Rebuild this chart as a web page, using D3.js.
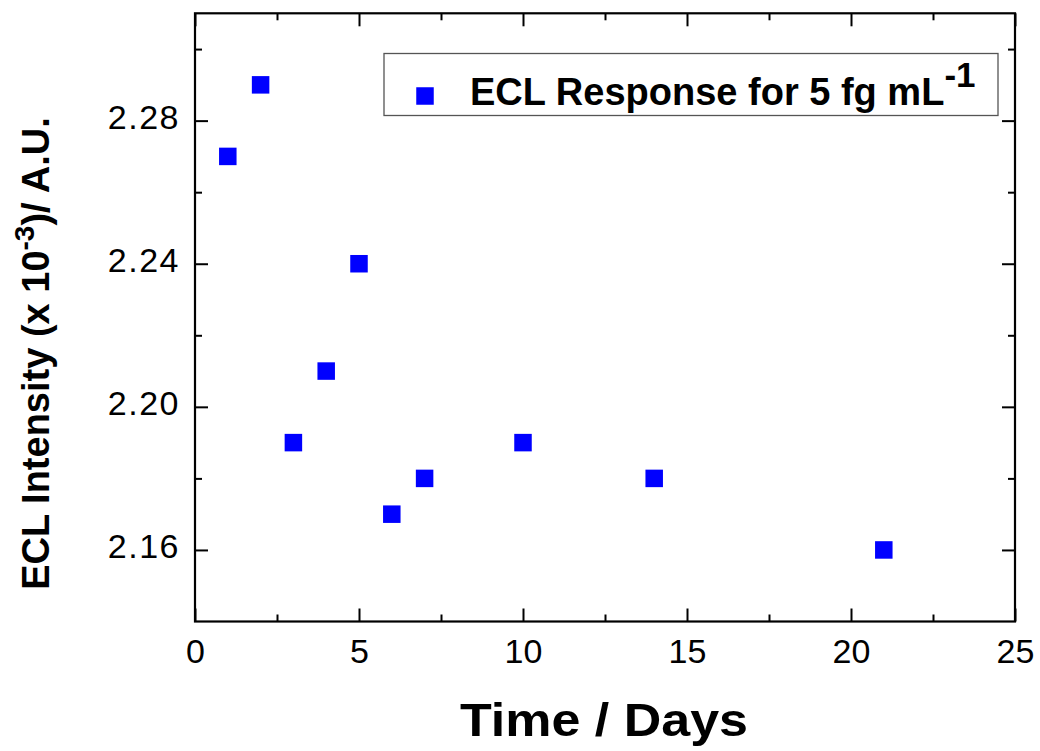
<!DOCTYPE html>
<html>
<head>
<meta charset="utf-8">
<title>ECL stability</title>
<style>
  body { margin: 0; background: #fff; }
  text { font-family: "Liberation Sans", Arial, sans-serif; }
</style>
</head>
<body>
<div id="container"></div>
<script src="https://d3js.org/d3.v7.min.js"></script>
<script>

// values
const days = [1, 2, 3, 4, 5, 6, 7, 10, 14, 21];
const intensity = [2.27, 2.29, 2.19, 2.21, 2.24, 2.17, 2.18, 2.19, 2.18, 2.16];
const xMajor = [0, 5, 10, 15, 20, 25];
const xMinor = [2.5, 7.5, 12.5, 17.5, 22.5];
const yMajor = [2.16, 2.20, 2.24, 2.28];
const yMinor = [2.18, 2.22, 2.26, 2.30];
const legendLabel = "ECL Response for 5 fg mL";

const width = 1040;
const height = 751;
const margin = {left: 195, right: 25, top: 13.3, bottom: 129.5};
const innerW = width - margin.left - margin.right;
const innerH = height - margin.top - margin.bottom;

const x = d3.scaleLinear().domain([0, 25]).range([0, innerW]);
const y = d3.scaleLinear().domain([2.14, 2.31]).range([innerH, 0]);

const svg = d3.select("#container")
  .append("svg")
  .attr("width", width)
  .attr("height", height)
  .style("background", "#fff");

const g = svg.append("g")
  .attr("transform", `translate(${margin.left},${margin.top})`);

const major = 13, minor = 7;

// bottom axis with labels
const xAxis = g.append("g")
  .attr("transform", `translate(0,${innerH})`)
  .call(d3.axisBottom(x).tickValues(xMajor).tickSizeInner(-major).tickSizeOuter(0)
    .tickPadding(17).tickFormat(d3.format("d")));
xAxis.selectAll("text").style("font-size", "34px").attr("fill", "#000");

g.append("g")
  .attr("transform", `translate(0,${innerH})`)
  .call(d3.axisBottom(x).tickValues(xMinor).tickSizeInner(-minor).tickSizeOuter(0).tickFormat(""));

// top mirror
g.append("g")
  .call(d3.axisTop(x).tickValues(xMajor).tickSizeInner(-major).tickSizeOuter(0).tickFormat(""));
g.append("g")
  .call(d3.axisTop(x).tickValues(xMinor).tickSizeInner(-minor).tickSizeOuter(0).tickFormat(""));

// left axis with labels
const yAxis = g.append("g")
  .call(d3.axisLeft(y).tickValues(yMajor).tickSizeInner(-major).tickSizeOuter(0)
    .tickPadding(15).tickFormat(d3.format(".2f")));
yAxis.selectAll("text").style("font-size", "34px").style("letter-spacing", "1.5px")
  .attr("dy", "0.22em").attr("fill", "#000");

g.append("g")
  .call(d3.axisLeft(y).tickValues(yMinor).tickSizeInner(-minor).tickSizeOuter(0).tickFormat(""));

// right mirror
g.append("g")
  .attr("transform", `translate(${innerW},0)`)
  .call(d3.axisRight(y).tickValues(yMajor).tickSizeInner(-major).tickSizeOuter(0).tickFormat(""));
g.append("g")
  .attr("transform", `translate(${innerW},0)`)
  .call(d3.axisRight(y).tickValues(yMinor).tickSizeInner(-minor).tickSizeOuter(0).tickFormat(""));

g.selectAll(".domain").remove();
g.selectAll(".tick line").attr("stroke", "#000").attr("stroke-width", 2);

// frame
g.append("rect")
  .attr("width", innerW)
  .attr("height", innerH)
  .attr("fill", "none")
  .attr("stroke", "#000")
  .attr("stroke-width", 2.2);

// points
const size = 17.5;
g.selectAll(".pt")
  .data(days.map((d, i) => ({day: d, val: intensity[i]})))
  .enter().append("rect")
  .attr("class", "pt")
  .attr("x", d => x(d.day) - size / 2)
  .attr("y", d => y(d.val) - size / 2)
  .attr("width", size)
  .attr("height", size)
  .attr("fill", "#0000ff");

// legend
const legend = svg.append("g");
legend.append("rect")
  .attr("x", 384).attr("y", 53.5)
  .attr("width", 614).attr("height", 62)
  .attr("fill", "#fff")
  .attr("stroke", "#555")
  .attr("stroke-width", 1.3);
legend.append("rect")
  .attr("x", 425 - size / 2).attr("y", 96 - size / 2)
  .attr("width", size).attr("height", size)
  .attr("fill", "#0000ff");
const lt = legend.append("text")
  .attr("x", 470).attr("y", 105)
  .style("font-size", "38px")
  .style("font-weight", "bold")
  .attr("fill", "#000");
lt.append("tspan").text(legendLabel);
lt.append("tspan").attr("dy", -18).style("font-size", "35px").text("-1");

// axis titles
svg.append("text")
  .attr("x", 604).attr("y", 736)
  .attr("text-anchor", "middle")
  .attr("textLength", 288)
  .attr("lengthAdjust", "spacingAndGlyphs")
  .style("font-size", "46px")
  .style("font-weight", "bold")
  .attr("fill", "#000")
  .text("Time / Days");

const yt = svg.append("text")
  .attr("transform", "translate(49,353.5) rotate(-90)")
  .attr("text-anchor", "middle")
  .style("font-size", "38px")
  .style("font-weight", "bold")
  .attr("fill", "#000");
yt.append("tspan").text("ECL Intensity (x 10");
yt.append("tspan").attr("dy", -15).style("font-size", "28px").text("-3");
yt.append("tspan").attr("dy", 15).text(")/ A.U.");

</script>
</body>
</html>
